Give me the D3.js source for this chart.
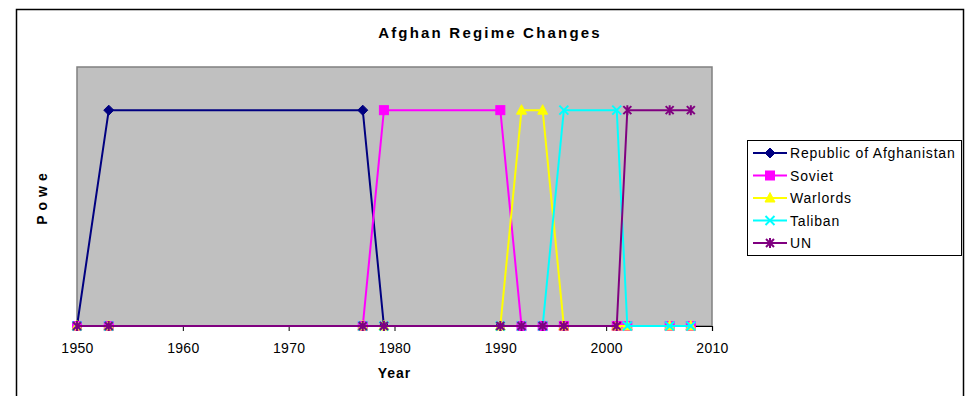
<!DOCTYPE html>
<html>
<head>
<meta charset="utf-8">
<script src="https://cdn.jsdelivr.net/npm/d3@7"></script>
<style>
  html, body { margin: 0; padding: 0; background: #fff; }
  svg { display: block; font-family: "Liberation Sans", Arial, sans-serif; }
</style>
</head>
<body>
<svg id="chart" width="967" height="396"></svg>
<script>
// Years at which the regime table was sampled
const years = [1950, 1953, 1977, 1979, 1990, 1992, 1994, 1996, 2001, 2002, 2006, 2008];

// Power held by each party (1 = in power, 0 = not)
const republic = [0, 1, 1, 0, 0, 0, 0, 0, 0, 0, 0, 0];
const soviet   = [0, 0, 0, 1, 1, 0, 0, 0, 0, 0, 0, 0];
const warlords = [0, 0, 0, 0, 0, 1, 1, 0, 0, 0, 0, 0];
const taliban  = [0, 0, 0, 0, 0, 0, 0, 1, 1, 0, 0, 0];
const un       = [0, 0, 0, 0, 0, 0, 0, 0, 0, 1, 1, 1];

const seriesNames = ["Republic of Afghanistan", "Soviet", "Warlords", "Taliban", "UN"];
const xTicks = [1950, 1960, 1970, 1980, 1990, 2000, 2010];

const series = [
  { name: seriesNames[0], values: republic, color: "#000080", marker: "diamond" },
  { name: seriesNames[1], values: soviet,   color: "#FF00FF", marker: "square" },
  { name: seriesNames[2], values: warlords, color: "#FFFF00", marker: "triangle" },
  { name: seriesNames[3], values: taliban,  color: "#00FFFF", marker: "cross" },
  { name: seriesNames[4], values: un,       color: "#800080", marker: "star" }
];

const svg = d3.select("#chart");

// chart frame
svg.append("rect")
  .attr("x", 16.5).attr("y", 9.5)
  .attr("width", 947).attr("height", 420)
  .attr("fill", "#fff").attr("stroke", "#000").attr("stroke-width", 1.5);

const plot = { left: 77, right: 712, top: 67, bottom: 326 };

const x = d3.scaleLinear().domain([1950, 2010]).range([plot.left, plot.right]);
const y = d3.scaleLinear().domain([0, 1.2]).range([plot.bottom, plot.top]);

// plot area
svg.append("rect")
  .attr("x", plot.left).attr("y", plot.top)
  .attr("width", plot.right - plot.left).attr("height", plot.bottom - plot.top)
  .attr("fill", "#C0C0C0").attr("stroke", "#808080").attr("stroke-width", 1.5);

// x axis
const xAxis = d3.axisBottom(x).tickValues(xTicks).tickFormat(d3.format("d"))
  .tickSize(5).tickPadding(12);
const gx = svg.append("g").attr("transform", `translate(0,${plot.bottom})`).call(xAxis);
gx.select(".domain").attr("stroke", "#000").attr("stroke-width", 1.2);
gx.selectAll(".tick line").attr("stroke", "#000");
gx.selectAll(".tick text")
  .attr("font-family", "Liberation Sans, Arial, sans-serif")
  .attr("font-size", 14).attr("letter-spacing", 0.3).attr("fill", "#000");

// titles
svg.append("text")
  .attr("x", 490).attr("y", 38)
  .attr("text-anchor", "middle")
  .attr("font-size", 15).attr("font-weight", "bold")
  .attr("letter-spacing", 2.2)
  .text("Afghan Regime Changes");

svg.append("text")
  .attr("x", (plot.left + plot.right) / 2).attr("y", 378)
  .attr("text-anchor", "middle")
  .attr("font-size", 14).attr("font-weight", "bold")
  .attr("letter-spacing", 1)
  .text("Year");

svg.append("text")
  .attr("transform", `translate(47,${(plot.top + plot.bottom) / 2}) rotate(-90)`)
  .attr("text-anchor", "middle")
  .attr("font-size", 14).attr("font-weight", "bold")
  .attr("letter-spacing", 5)
  .text("Powe");

// marker shapes
function drawMarker(g, type, color, cx, cy) {
  if (type === "diamond") {
    g.append("path")
      .attr("d", `M${cx},${cy - 5}L${cx + 5},${cy}L${cx},${cy + 5}L${cx - 5},${cy}Z`)
      .attr("fill", color).attr("stroke", color).attr("stroke-width", 1);
  } else if (type === "square") {
    g.append("rect")
      .attr("x", cx - 4.5).attr("y", cy - 4.5).attr("width", 9).attr("height", 9)
      .attr("fill", color).attr("stroke", color).attr("stroke-width", 1);
  } else if (type === "triangle") {
    g.append("path")
      .attr("d", `M${cx},${cy - 5.5}L${cx + 5},${cy + 4}L${cx - 5},${cy + 4}Z`)
      .attr("fill", color).attr("stroke", color).attr("stroke-width", 1);
  } else if (type === "cross") {
    g.append("path")
      .attr("d", `M${cx - 4.5},${cy - 4.5}L${cx + 4.5},${cy + 4.5}M${cx + 4.5},${cy - 4.5}L${cx - 4.5},${cy + 4.5}`)
      .attr("stroke", color).attr("stroke-width", 2).attr("fill", "none");
  } else if (type === "star") {
    g.append("path")
      .attr("d", `M${cx - 4},${cy - 4}L${cx + 4},${cy + 4}M${cx + 4},${cy - 4}L${cx - 4},${cy + 4}M${cx},${cy - 5}L${cx},${cy + 5}`)
      .attr("stroke", color).attr("stroke-width", 2).attr("fill", "none");
  }
}

const line = d3.line().x(d => x(d[0])).y(d => y(d[1]));

// series, drawn in order so later parties sit on top
series.forEach(s => {
  const g = svg.append("g");
  const pts = years.map((yr, i) => [yr, s.values[i]]);
  g.append("path")
    .attr("d", line(pts))
    .attr("fill", "none").attr("stroke", s.color).attr("stroke-width", 2);
  pts.forEach(p => drawMarker(g, s.marker, s.color, x(p[0]), y(p[1])));
});

// legend
const legend = svg.append("g");
legend.append("rect")
  .attr("x", 747.5).attr("y", 140.5).attr("width", 214).attr("height", 115)
  .attr("fill", "#fff").attr("stroke", "#000").attr("stroke-width", 1);

series.forEach((s, i) => {
  const ly = 153 + i * 22.5;
  const row = legend.append("g");
  row.append("line")
    .attr("x1", 753).attr("x2", 787).attr("y1", ly).attr("y2", ly)
    .attr("stroke", s.color).attr("stroke-width", 2);
  drawMarker(row, s.marker, s.color, 770, ly);
  row.append("text")
    .attr("x", 790).attr("y", ly + 5)
    .attr("font-size", 14).attr("fill", "#000")
    .attr("letter-spacing", 0.8)
    .text(s.name);
});
</script>
</body>
</html>
